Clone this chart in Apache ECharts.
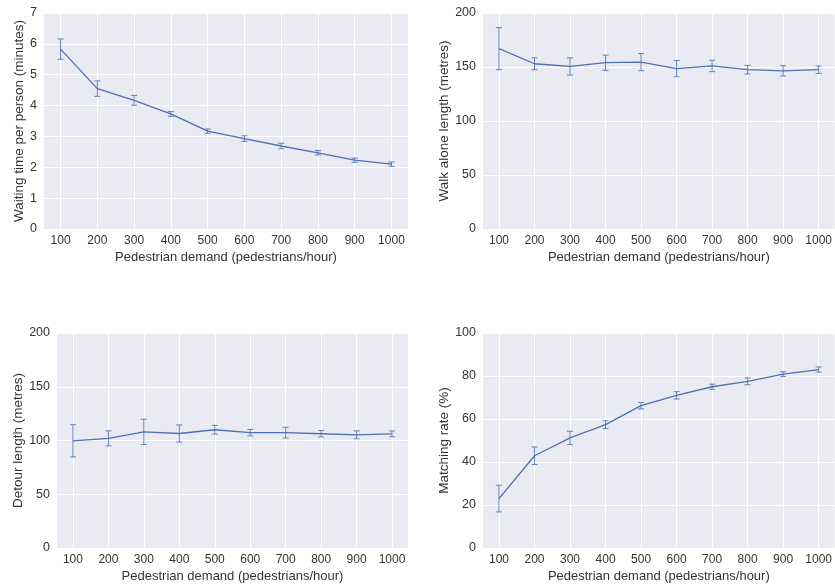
<!DOCTYPE html>
<html lang="en">
<head>
    <meta charset="UTF-8">
    <title>Pedestrian demand</title>
    <style>
        html, body { margin: 0; padding: 0; background: #fff; }
        #chart { width: 835px; height: 584px; }
    </style>
</head>
<body>
    <div id="chart"></div>
    <script src="https://cdn.jsdelivr.net/npm/echarts@6/dist/echarts.min.js"></script>
    <script>
    // pedestrian demand (x)
    var demand = [100, 200, 300, 400, 500, 600, 700, 800, 900, 1000];

    // mean values and error bar half-widths
    var waitMean = [5.83, 4.55, 4.17, 3.73, 3.17, 2.93, 2.69, 2.47, 2.23, 2.10];
    var waitErr = [0.33, 0.25, 0.16, 0.08, 0.07, 0.09, 0.09, 0.07, 0.07, 0.07];

    var walkMean = [167, 153, 150.5, 154, 154.5, 148.5, 151, 147.5, 146.5, 147.5];
    var walkErr = [19.5, 5.5, 8, 7, 8, 7.5, 5.3, 4, 4.8, 3.5];

    var detourMean = [99.7, 102, 108, 106.5, 110, 107.3, 107.3, 106.3, 105.3, 106.2];
    var detourErr = [15, 7, 11.7, 8, 4, 3, 5, 3, 3.7, 2.7];

    var matchMean = [23, 42.9, 51.2, 57.4, 66.2, 71, 75, 77.5, 80.9, 83];
    var matchErr = [6.2, 4.1, 3.1, 1.8, 1.5, 1.7, 1.2, 1.6, 1.1, 1.2];

    var yNames = ['Waiting time per person (minutes)', 'Walk alone length (metres)',
                  'Detour length (metres)', 'Matching rate (%)'];
    var yMax = [7, 200, 200, 100];
    var yStep = [1, 50, 50, 20];
    var xName = 'Pedestrian demand (pedestrians/hour)';

    var blue = '#4C72B0';
    var textColor = '#333';
    var font = 'Liberation Sans';

    var grids = [
        { left: 44, top: 13, width: 364, height: 216 },
        { left: 483, top: 13, width: 354, height: 216 },
        { left: 57, top: 333, width: 351, height: 216 },
        { left: 483, top: 333, width: 354, height: 216 }
    ];
    var means = [waitMean, walkMean, detourMean, matchMean];
    var errs = [waitErr, walkErr, detourErr, matchErr];
    var nameGaps = [16, 25, 25, 24];

    var xAxes = [], yAxes = [], series = [];
    grids.forEach(function (g, i) {
        g.backgroundColor = '#EAEAF2';
        g.borderWidth = 0;
        g.show = true;
        xAxes.push({
            type: 'value', gridIndex: i, min: 55, max: 1045,
            name: xName, nameLocation: 'middle', nameGap: 22,
            nameTextStyle: { color: textColor, fontSize: 13, fontFamily: font },
            axisLine: { show: false },
            axisTick: { show: false, customValues: demand },
            axisLabel: {
                customValues: demand, color: textColor, fontSize: 12, fontFamily: font, margin: 6,
                formatter: function (v) { return String(v); }
            },
            splitLine: { show: true, lineStyle: { color: '#fff', width: 1 } }
        });
        yAxes.push({
            type: 'value', gridIndex: i, min: 0, max: yMax[i], interval: yStep[i],
            name: yNames[i], nameLocation: 'middle', nameGap: nameGaps[i],
            nameTextStyle: { color: textColor, fontSize: 13.5, fontFamily: font },
            axisLine: { show: false },
            axisTick: { show: false },
            axisLabel: { color: textColor, fontSize: 12.5, fontFamily: font, margin: 7 },
            splitLine: { show: true, lineStyle: { color: '#fff', width: 1 } }
        });
        series.push({
            type: 'line', xAxisIndex: i, yAxisIndex: i,
            data: demand.map(function (d, k) { return [d, means[i][k]]; }),
            symbol: 'none',
            lineStyle: { color: blue, width: 1.3 },
            silent: true, z: 3
        });
        series.push({
            type: 'custom', xAxisIndex: i, yAxisIndex: i,
            data: demand.map(function (d, k) {
                return [d, means[i][k] - errs[i][k], means[i][k] + errs[i][k]];
            }),
            renderItem: function (params, api) {
                var top = api.coord([api.value(0), api.value(2)]);
                var bot = api.coord([api.value(0), api.value(1)]);
                var w = 3;
                var st = { stroke: blue, lineWidth: 1, opacity: 0.85 };
                return {
                    type: 'group', children: [
                        { type: 'line', shape: { x1: top[0], y1: top[1], x2: bot[0], y2: bot[1] }, style: st },
                        { type: 'line', shape: { x1: top[0] - w, y1: top[1], x2: top[0] + w, y2: top[1] }, style: st },
                        { type: 'line', shape: { x1: bot[0] - w, y1: bot[1], x2: bot[0] + w, y2: bot[1] }, style: st }
                    ]
                };
            },
            silent: true, z: 2
        });
    });

    var mChart = echarts.init(document.getElementById('chart'));
    mChart.setOption({
        backgroundColor: '#fff',
        animation: false,
        grid: grids,
        xAxis: xAxes,
        yAxis: yAxes,
        series: series
    });
    </script>
</body>
</html>
